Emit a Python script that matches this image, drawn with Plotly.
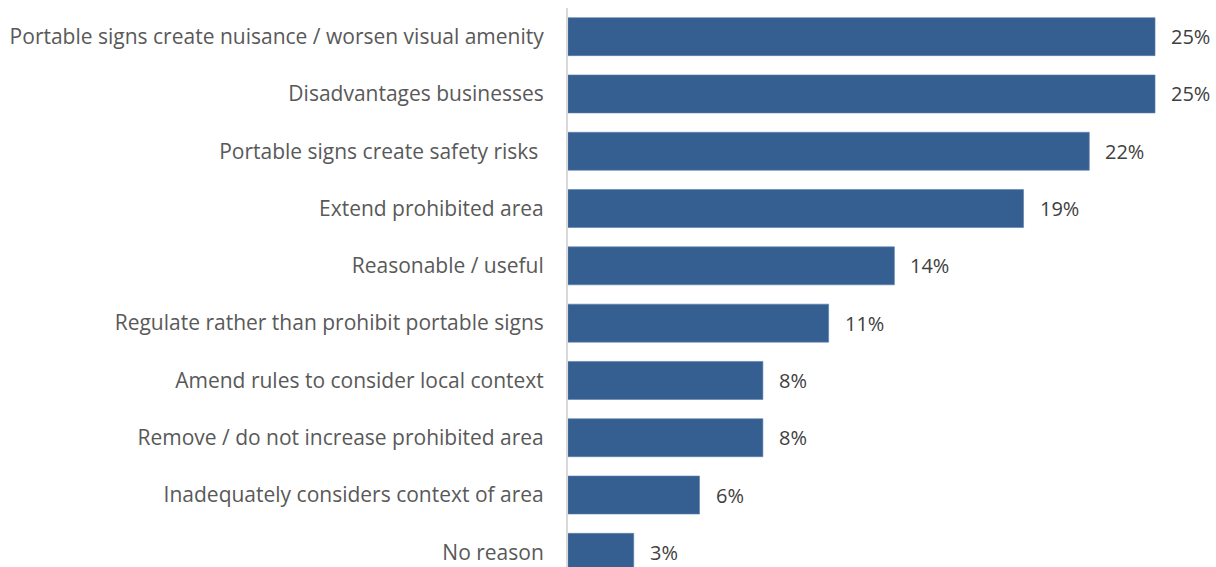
import plotly.graph_objects as go

# Share of responses giving each reason (n = 36)
reasons = [
    "Portable signs create nuisance / worsen visual amenity",
    "Disadvantages businesses",
    "Portable signs create safety risks ",
    "Extend prohibited area",
    "Reasonable / useful",
    "Regulate rather than prohibit portable signs",
    "Amend rules to consider local context",
    "Remove / do not increase prohibited area",
    "Inadequately considers context of area",
    "No reason",
]
shares = [25.0, 25.0, 22.2, 19.4, 13.9, 11.1, 8.3, 8.3, 5.6, 2.8]

BAR_COLOR = "#365F91"
FONT = "'Open Sans', Lato, sans-serif"

fig = go.Figure(
    go.Bar(
        x=shares,
        y=reasons,
        orientation="h",
        marker=dict(color=BAR_COLOR, line=dict(color="#5A80AD", width=0.6)),
        hoverinfo="skip",
    )
)

# Value labels to the right of each bar
for r, v in zip(reasons, shares):
    fig.add_annotation(
        x=v, y=r, text=f"{v:.0f}%",
        xref="x", yref="y",
        xanchor="left", yanchor="middle",
        xshift=14, showarrow=False,
        font=dict(family=FONT, size=20, color="#404040"),
    )

fig.update_layout(
    width=1216, height=567,
    margin=dict(l=568, r=14, t=8, b=0),
    paper_bgcolor="white", plot_bgcolor="white",
    bargap=0.337,
    showlegend=False,
    font=dict(family=FONT, size=21, color="#595959"),
)
fig.update_xaxes(
    range=[0, 27], visible=False, showgrid=False, zeroline=False,
)
fig.update_yaxes(
    categoryorder="array", categoryarray=reasons,
    range=[9.256, -0.5],
    showgrid=False, zeroline=False,
    showline=True, linecolor="#D9D9D9", linewidth=2,
    ticks="", ticklabelstandoff=18,
    tickfont=dict(family=FONT, size=21, color="#595959"),
)

fig.write_html("out.html")
